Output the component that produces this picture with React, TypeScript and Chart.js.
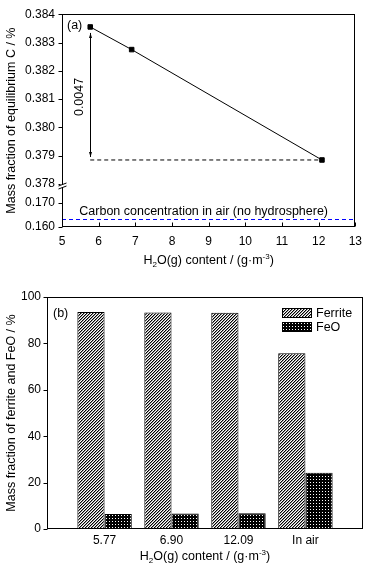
import React, { useEffect, useRef } from 'react';
import { Chart, registerables, LinearScale } from 'chart.js';

Chart.register(...registerables);

const FONT = '"Liberation Sans", Arial, Helvetica, sans-serif';

// ---------- data (a) ----------
const H2O_CONTENT = [5.77, 6.9, 12.09];
const EQ_CARBON = [0.38355, 0.38275, 0.37885];
const AIR_CARBON = 0.1631;
const DELTA_TEXT = '0.0047';
const AIR_TEXT = 'Carbon concentration in air (no hydrosphere)';
const A_X_MIN = 5;
const A_X_MAX = 13;
const A_Y_MIN = 0.16;
const A_Y_MAX = 0.384;
const A_Y_TICKS = [0.16, 0.17, 0.378, 0.379, 0.38, 0.381, 0.382, 0.383, 0.384];
const A_Y_TITLE = 'Mass fraction of equilibrium C / %';

// ---------- data (b) ----------
const B_CATEGORIES = ['5.77', '6.90', '12.09', 'In air'];
const FERRITE = [93.5, 93.3, 93.2, 75.8];
const FEO = [6.5, 6.7, 6.8, 24.2];
const B_Y_TITLE = 'Mass fraction of ferrite and FeO / %';

// axis break geometry (fractions of plot height, from the bottom)
const BREAK_LOW = 0.17;
const BREAK_HIGH = 0.378;
const FRAC_LOW = 0.1135;
const FRAC_HIGH = 0.2019;

class BrokenScale extends LinearScale {
  static id = 'brokenLinear';
  static defaults = LinearScale.defaults;
  buildTicks() {
    return A_Y_TICKS.map((value) => ({ value }));
  }
  getPixelForValue(v: number) {
    const s: any = this;
    const h = s.bottom - s.top;
    let f: number;
    if (v >= BREAK_HIGH) f = FRAC_HIGH + ((v - BREAK_HIGH) / (s.max - BREAK_HIGH)) * (1 - FRAC_HIGH);
    else f = ((v - s.min) / (BREAK_LOW - s.min)) * FRAC_LOW;
    return s.bottom - f * h;
  }
  getValueForPixel(p: number) {
    const s: any = this;
    const f = (s.bottom - p) / (s.bottom - s.top);
    if (f >= FRAC_HIGH) return BREAK_HIGH + ((f - FRAC_HIGH) / (1 - FRAC_HIGH)) * (s.max - BREAK_HIGH);
    return s.min + (f / FRAC_LOW) * (BREAK_LOW - s.min);
  }
}
Chart.register(BrokenScale as any);

Chart.defaults.font.family = FONT;
Chart.defaults.font.size = 12;
Chart.defaults.color = '#000';

function drawH2OTitle(ctx: CanvasRenderingContext2D, cx: number, baseline: number) {
  const parts: [string, number][] = [
    ['H', 0],
    ['2', 1],
    ['O(g) content / (g\u00b7m', 0],
    ['-3', 2],
    [')', 0],
  ];
  const big = `12.5px ${FONT}`;
  const small = `8px ${FONT}`;
  let total = 0;
  const widths = parts.map(([t, k]) => {
    ctx.font = k ? small : big;
    const w = ctx.measureText(t).width;
    total += w;
    return w;
  });
  let x = cx - total / 2;
  ctx.save();
  ctx.fillStyle = '#000';
  ctx.textAlign = 'left';
  ctx.textBaseline = 'alphabetic';
  parts.forEach(([t, k], i) => {
    ctx.font = k ? small : big;
    const dy = k === 1 ? 3 : k === 2 ? -5 : 0;
    ctx.fillText(t, x, baseline + dy);
    x += widths[i];
  });
  ctx.restore();
}

function drawFrame(ctx: CanvasRenderingContext2D, a: any) {
  const l = Math.round(a.left) + 0.5;
  const t = Math.round(a.top) + 0.5;
  const r = Math.round(a.right) - 0.5;
  const b = Math.round(a.bottom) - 0.5;
  ctx.save();
  ctx.strokeStyle = '#000';
  ctx.lineWidth = 1;
  ctx.strokeRect(l, t, r - l, b - t);
  ctx.restore();
  return { l, t, r, b };
}

const decorA = {
  id: 'decorA',
  afterDraw(chart: any) {
    const { ctx, chartArea, scales } = chart;
    const xs = scales.x;
    const ys = scales.y;
    const { l, b } = drawFrame(ctx, chartArea);
    ctx.save();
    ctx.strokeStyle = '#000';
    ctx.lineWidth = 1;
    ctx.beginPath();
    ys.ticks.forEach((_: any, i: number) => {
      const y = Math.round(ys.getPixelForTick(i)) + 0.5;
      ctx.moveTo(l - 4, y);
      ctx.lineTo(l, y);
    });
    xs.ticks.forEach((_: any, i: number) => {
      const x = Math.round(xs.getPixelForTick(i)) + 0.5;
      ctx.moveTo(x, b);
      ctx.lineTo(x, b - 4);
    });
    ctx.stroke();

    // axis break
    const yb = Math.round(ys.getPixelForValue(BREAK_HIGH)) + 2;
    ctx.fillStyle = '#fff';
    ctx.fillRect(l - 2, yb - 2, 4, 4);
    ctx.beginPath();
    ctx.moveTo(l - 4, yb - 0);
    ctx.lineTo(l + 4, yb - 3);
    ctx.moveTo(l - 4, yb + 3);
    ctx.lineTo(l + 4, yb);
    ctx.stroke();

    // double arrow for the difference
    const ax = Math.round(xs.getPixelForValue(H2O_CONTENT[0])) + 0.5;
    const yTop = ys.getPixelForValue(EQ_CARBON[0]) + 6;
    const yBot = ys.getPixelForValue(EQ_CARBON[2]) - 3;
    ctx.beginPath();
    ctx.moveTo(ax, yTop);
    ctx.lineTo(ax, yBot);
    ctx.stroke();
    ctx.fillStyle = '#000';
    ctx.beginPath();
    ctx.moveTo(ax, yTop);
    ctx.lineTo(ax - 1.5, yTop + 5);
    ctx.lineTo(ax + 1.5, yTop + 5);
    ctx.closePath();
    ctx.moveTo(ax, yBot);
    ctx.lineTo(ax - 1.5, yBot - 5);
    ctx.lineTo(ax + 1.5, yBot - 5);
    ctx.closePath();
    ctx.fill();

    // texts
    ctx.font = `12.5px ${FONT}`;
    ctx.textBaseline = 'middle';
    ctx.textAlign = 'left';
    ctx.fillText('(a)', chartArea.left + 5, chartArea.top + 11);
    ctx.save();
    ctx.translate(ax - 11, (yTop + yBot) / 2 + 2);
    ctx.rotate(-Math.PI / 2);
    ctx.textAlign = 'center';
    ctx.fillText(DELTA_TEXT, 0, 0);
    ctx.restore();
    ctx.textAlign = 'center';
    ctx.fillText(AIR_TEXT, (chartArea.left + chartArea.right) / 2 - 5, ys.getPixelForValue(AIR_CARBON) - 8);
    ctx.restore();

    drawH2OTitle(ctx, (chartArea.left + chartArea.right) / 2, 264);
  },
};

const decorB = {
  id: 'decorB',
  afterDraw(chart: any) {
    const { ctx, chartArea, scales } = chart;
    const ys = scales.y;
    const { l } = drawFrame(ctx, chartArea);
    ctx.save();
    ctx.strokeStyle = '#000';
    ctx.lineWidth = 1;
    ctx.beginPath();
    ys.ticks.forEach((_: any, i: number) => {
      const y = Math.round(ys.getPixelForTick(i)) + 0.5;
      ctx.moveTo(l - 4, y);
      ctx.lineTo(l, y);
    });
    ctx.stroke();

    ctx.font = `12.5px ${FONT}`;
    ctx.fillStyle = '#000';
    ctx.textBaseline = 'middle';
    ctx.textAlign = 'left';
    ctx.fillText('(b)', chartArea.left + 6, chartArea.top + 17);

    // legend
    const sx = Math.round(chartArea.right) - 81;
    chart.data.datasets.forEach((ds: any, i: number) => {
      const sy = Math.round(chartArea.top) + 11 + i * 14;
      ctx.fillStyle = ds.backgroundColor;
      ctx.fillRect(sx, sy, 30, 10);
      ctx.strokeStyle = '#000';
      ctx.strokeRect(sx + 0.5, sy + 0.5, 29, 9);
      ctx.fillStyle = '#000';
      ctx.fillText(ds.label, sx + 34, sy + 5.5);
    });
    ctx.restore();

    drawH2OTitle(ctx, (chartArea.left + chartArea.right) / 2, 280);
  },
};

function makePattern(ctx: CanvasRenderingContext2D, size: number, fn: (x: number, y: number) => number) {
  const c = document.createElement('canvas');
  c.width = size;
  c.height = size;
  const g = c.getContext('2d')!;
  const img = g.createImageData(size, size);
  for (let y = 0; y < size; y++) {
    for (let x = 0; x < size; x++) {
      const v = fn(x, y);
      const i = (y * size + x) * 4;
      img.data[i] = v;
      img.data[i + 1] = v;
      img.data[i + 2] = v;
      img.data[i + 3] = 255;
    }
  }
  g.putImageData(img, 0, 0);
  return ctx.createPattern(c, 'repeat')!;
}

export default function App() {
  const refA = useRef<HTMLCanvasElement>(null);
  const refB = useRef<HTMLCanvasElement>(null);

  useEffect(() => {
    const chartA = new Chart(refA.current!, {
      type: 'line',
      data: {
        datasets: [
          {
            label: 'equilibrium C',
            data: H2O_CONTENT.map((x, i) => ({ x, y: EQ_CARBON[i] })),
            borderColor: '#000',
            backgroundColor: '#000',
            borderWidth: 1,
            pointStyle: 'rect',
            pointRadius: 3.2,
            pointBorderWidth: 1,
            pointBackgroundColor: '#000',
            pointBorderColor: '#000',
          },
          {
            label: 'difference',
            data: [
              { x: H2O_CONTENT[0], y: EQ_CARBON[2] },
              { x: H2O_CONTENT[2], y: EQ_CARBON[2] },
            ],
            borderColor: '#000',
            borderWidth: 1,
            borderDash: [4, 3],
            pointRadius: 0,
          },
          {
            label: 'air',
            data: [
              { x: A_X_MIN, y: AIR_CARBON },
              { x: A_X_MAX, y: AIR_CARBON },
            ],
            borderColor: '#0000ff',
            borderWidth: 1,
            borderDash: [4, 3],
            pointRadius: 0,
          },
        ],
      },
      options: {
        responsive: false,
        animation: false,
        layout: { padding: { top: 12, right: 11, left: 0, bottom: 0 } },
        plugins: { legend: { display: false }, tooltip: { enabled: false } },
        scales: {
          x: {
            type: 'linear',
            min: A_X_MIN,
            max: A_X_MAX,
            offset: false,
            grid: { display: false, drawTicks: false },
            border: { display: false },
            ticks: { stepSize: 1, padding: 7, font: { size: 12 }, color: '#000' },
            afterFit: (s: any) => {
              s.height = 53;
            },
          },
          y: {
            type: 'brokenLinear' as any,
            min: A_Y_MIN,
            max: A_Y_MAX,
            grid: { display: false, drawTicks: false },
            border: { display: false },
            ticks: {
              autoSkip: false,
              padding: 7,
              font: { size: 12 },
              color: '#000',
              callback: (v: any) => Number(v).toFixed(3),
            },
            title: { display: true, text: A_Y_TITLE, font: { size: 12.5 }, color: '#000', padding: { top: 4, bottom: 0 } },
            afterFit: (s: any) => {
              s.width = 62;
            },
          },
        },
      } as any,
      plugins: [decorA],
    });

    const ctxB = refB.current!.getContext('2d')!;
    const hatch = makePattern(ctxB, 3, (x, y) => {
      const k = (x + y) % 3;
      return k === 2 ? 0 : k === 0 ? 150 : 255;
    });
    const dots = makePattern(ctxB, 3, (x, y) => (x === 1 && y === 1 ? 255 : 0));

    const chartB = new Chart(refB.current!, {
      type: 'bar',
      data: {
        datasets: [
          {
            label: 'Ferrite',
            data: FERRITE.map((y, i) => ({ x: i, y })),
            backgroundColor: hatch,
            borderColor: '#000',
            borderWidth: 1,
          },
          {
            label: 'FeO',
            data: FEO.map((y, i) => ({ x: i, y })),
            backgroundColor: dots,
            borderColor: '#000',
            borderWidth: 1,
          },
        ],
      },
      options: {
        responsive: false,
        animation: false,
        layout: { padding: { top: 17, right: 6, left: 0, bottom: 0 } },
        plugins: { legend: { display: false }, tooltip: { enabled: false } },
        datasets: { bar: { barPercentage: 1, categoryPercentage: 0.813 } },
        scales: {
          x: {
            type: 'linear',
            min: -0.86,
            max: B_CATEGORIES.length - 1 + 0.86,
            offset: false,
            grid: { display: false, drawTicks: false, offset: false },
            border: { display: false },
            afterBuildTicks: (s: any) => {
              s.ticks = B_CATEGORIES.map((_, i) => ({ value: i }));
            },
            ticks: {
              autoSkip: false,
              padding: 4,
              font: { size: 12 },
              color: '#000',
              callback: (v: any) => B_CATEGORIES[Math.round(Number(v))],
            },
            afterFit: (s: any) => {
              s.height = 40;
            },
          },
          y: {
            type: 'linear',
            min: 0,
            max: 100,
            grid: { display: false, drawTicks: false },
            border: { display: false },
            ticks: { stepSize: 20, padding: 6, font: { size: 12 }, color: '#000' },
            title: { display: true, text: B_Y_TITLE, font: { size: 12.5 }, color: '#000', padding: { top: 4, bottom: 0 } },
            afterFit: (s: any) => {
              s.width = 47;
            },
          },
        },
      } as any,
      plugins: [decorB],
    });

    return () => {
      chartA.destroy();
      chartB.destroy();
    };
  }, []);

  return (
    <div style={{ position: 'absolute', left: 0, top: 0, width: 369, height: 569, background: '#fff' }}>
      <canvas ref={refA} width={369} height={280} style={{ position: 'absolute', left: 0, top: 0 }} />
      <canvas ref={refB} width={369} height={289} style={{ position: 'absolute', left: 0, top: 280 }} />
    </div>
  );
}
